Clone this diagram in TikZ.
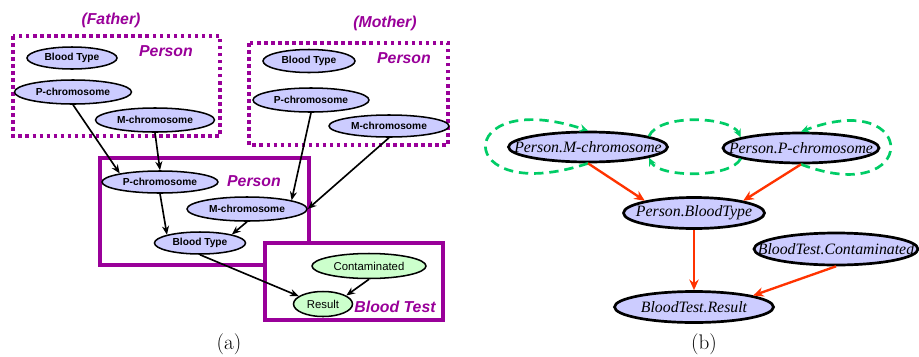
\documentclass[tikz,border=0pt]{standalone}
\usepackage{fontspec}
\newfontfamily\arialfont{Liberation Sans}
\newfontfamily\timesfont{Liberation Serif}
\usetikzlibrary{arrows, arrows.meta, shapes.geometric}
\definecolor{purp}{RGB}{153,0,153}
\definecolor{lav}{RGB}{204,204,255}
\definecolor{mint}{RGB}{204,255,204}
\definecolor{redarr}{RGB}{255,51,0}
\definecolor{grn}{RGB}{0,204,102}
\tikzset{
  attr/.style 2 args={ellipse, draw=black, line width=1.3pt, fill=lav, inner sep=0pt,
    minimum width=#1*0.03cm, minimum height=#2*0.03cm,
    font=\arialfont\bfseries\fontsize{8.7}{10}\selectfont},
  test/.style 2 args={attr={#1}{#2}, fill=mint,
    font=\arialfont\fontsize{9.7}{11}\selectfont},
  rattr/.style 2 args={ellipse, draw=black, line width=2.3pt, fill=lav,
    inner xsep=-20pt, inner ysep=0pt,
    minimum width=#1*0.03cm, minimum height=#2*0.03cm,
    font=\timesfont\itshape\fontsize{13.5}{15}\selectfont},
  lbl/.style={purp, font=\arialfont\bfseries\itshape\fontsize{13.5}{16}\selectfont},
  fbox/.style={purp, line width=3pt, dash pattern=on 3pt off 3pt},
  cbox/.style={purp, line width=3.4pt},
  larr/.style={-{Stealth[length=7.5pt,width=6pt]}, line width=1.4pt},
  rarr/.style={-{Stealth[length=9pt,width=8pt]}, line width=2pt, redarr},
  garr/.style={-{Stealth[length=7pt,width=6.5pt]}, line width=2.3pt, grn, dash pattern=on 8pt off 5pt}
}
\begin{document}
\begin{tikzpicture}[x=0.03cm, y=-0.03cm]
\useasboundingbox (0,0) rectangle (919,356);
% (a) class dependency graph
\draw[fbox] (13,36) rectangle (220,136);
\draw[fbox] (249,43) rectangle (448,145);
\draw[cbox] (100,158) rectangle (309,265);
\draw[cbox, fill=white] (265,243) rectangle (443,320);
\node[lbl] (fath) at (111,20) {(Father)};
\node[lbl] (moth) at (385,23) {(Mother)};
\node[lbl] (fpers) at (166,51) {Person};
\node[lbl] (mpers) at (404,58) {Person};
\node[lbl] (cpers) at (254,181) {Person};
\node[lbl] (btest) at (395,307) {Blood Test};
% father
\node[attr={90}{22}] (fbt) at (72,58) {Blood Type};
\node[attr={117}{24}] (fpc) at (73,92) {P-chromosome};
\node[attr={119}{24}] (fmc) at (155,120) {M-chromosome};
% mother
\node[attr={92}{23}] (mbt) at (309,61) {Blood Type};
\node[attr={116}{24}] (mpc) at (311,100) {P-chromosome};
\node[attr={120}{22}] (mmc) at (389,126) {M-chromosome};
% child
\node[attr={116}{22}] (cpc) at (160,182) {P-chromosome};
\node[attr={120}{24}] (cmc) at (247,209) {M-chromosome};
\node[attr={91}{22}] (cbt) at (200,243) {Blood Type};
% blood test
\node[test={114}{25}] (cont) at (369,266) {Contaminated};
\node[test={59}{25}] (res) at (323,304) {Result};
\draw[larr] (fpc.south) -- (cpc.168);
\draw[larr] (fmc.south) -- (cpc.north);
\draw[larr] (mpc.south) -- (cmc.11);
\draw[larr] (mmc.south) -- (cmc.east);
\draw[larr] (cpc.south) -- (cbt.166);
\draw[larr] (cmc.south) -- (cbt.15);
\draw[larr] (cbt.south) -- (res.162);
\draw[larr] (cont.south) -- (res.20);
\node[font=\fontsize{18}{20}\selectfont] (capa) at (229,344) {(a)};
% (b) ground dependency graph
\node[rattr={159}{30}] (pmc) at (588,147) {Person.M-chromosome};
\node[rattr={156}{30}] (ppc) at (801,148) {Person.P-chromosome};
\node[rattr={141}{31}] (pbt) at (694,213) {Person.BloodType};
\node[rattr={164}{32}] (bcont) at (836,249) {BloodTest.Contaminated};
\node[rattr={159}{31}] (bres) at (694,307) {BloodTest.Result};
\draw[garr] (pmc.south) .. controls +(-136,45) and +(-136,-45) .. (pmc.north);
\draw[garr] (pmc.10) .. controls +(10,-23) and +(-10,-21) .. (ppc.170);
\draw[garr] (ppc.190) .. controls +(-10,20) and +(10,20) .. (pmc.350);
\draw[garr] (ppc.south) .. controls +(119,45) and +(119,-45) .. (ppc.north);
\draw[rarr] (pmc.south) -- (pbt.166);
\draw[rarr] (ppc.south) -- (pbt.14);
\draw[rarr] (pbt.south) -- (bres.north);
\draw[rarr] (bcont.south) -- (bres.11);
\node[font=\fontsize{18}{20}\selectfont] (capb) at (704,344) {(b)};
\end{tikzpicture}
\end{document}
